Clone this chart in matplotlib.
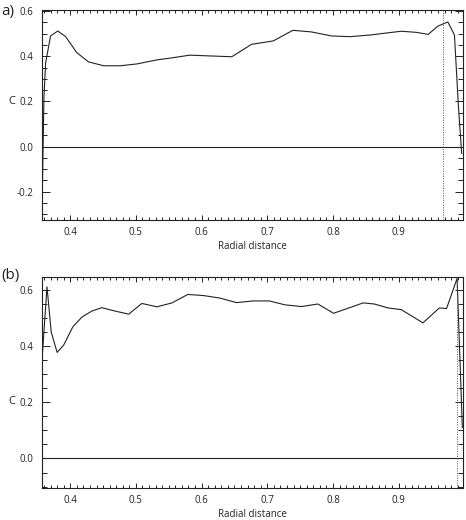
import matplotlib
matplotlib.use("Agg")
import matplotlib.pyplot as plt
from matplotlib.ticker import MultipleLocator, FormatStrFormatter

plt.rcParams['font.family'] = ['Open Sans', 'DejaVu Sans']

# Panel (a) data
xa = [0.357, 0.360, 0.3625, 0.370, 0.381, 0.393, 0.410, 0.428, 0.451, 0.476,
      0.501, 0.532, 0.557, 0.582, 0.618, 0.646, 0.676, 0.709, 0.739, 0.767,
      0.798, 0.826, 0.856, 0.881, 0.904, 0.927, 0.945, 0.960, 0.975, 0.985,
      0.991, 0.996]
ya = [-0.28, 0.22, 0.37, 0.49, 0.512, 0.487, 0.416, 0.375, 0.358, 0.358,
      0.366, 0.384, 0.394, 0.405, 0.401, 0.398, 0.453, 0.468, 0.515, 0.508,
      0.490, 0.487, 0.494, 0.503, 0.511, 0.506, 0.497, 0.534, 0.552, 0.494,
      0.18, -0.03]
vline_a = 0.968

# Panel (b) data
xb = [0.3575, 0.3646, 0.371, 0.380, 0.390, 0.404, 0.418, 0.433, 0.448, 0.468,
      0.489, 0.509, 0.532, 0.555, 0.579, 0.603, 0.628, 0.653, 0.679, 0.703,
      0.727, 0.752, 0.777, 0.801, 0.823, 0.846, 0.863, 0.884, 0.904, 0.937,
      0.962, 0.973, 0.989, 0.997]
yb = [0.366, 0.61, 0.45, 0.377, 0.403, 0.468, 0.503, 0.524, 0.536, 0.524,
      0.513, 0.551, 0.539, 0.553, 0.583, 0.579, 0.570, 0.554, 0.560, 0.560,
      0.546, 0.540, 0.549, 0.516, 0.534, 0.553, 0.549, 0.535, 0.529, 0.482,
      0.535, 0.533, 0.640, 0.11]
vline_b = 0.9896

xticks = [0.4, 0.5, 0.6, 0.7, 0.8, 0.9]

fig = plt.figure(figsize=(4.66, 5.2), dpi=100)
ax_a = fig.add_axes([42/466, 1-220/520, (463-42)/466, (220-10)/520])
ax_b = fig.add_axes([42/466, 1-488/520, (463-42)/466, (488-277)/520])

lc = '#222222'
for ax, x, y, vl, ylim, yt in [
        (ax_a, xa, ya, vline_a, (-0.325, 0.605), [-0.2, 0.0, 0.2, 0.4, 0.6]),
        (ax_b, xb, yb, vline_b, (-0.105, 0.645), [0.0, 0.2, 0.4, 0.6])]:
    ax.plot(x, y, color=lc, lw=0.8)
    ax.axhline(0, color=lc, lw=0.8)
    ax.axvline(vl, color='#555555', lw=0.7, ls=(0, (1, 1.5)))
    ax.set_xlim(0.357, 0.998)
    ax.set_ylim(*ylim)
    ax.set_xticks(xticks)
    ax.set_yticks(yt)
    ax.xaxis.set_minor_locator(MultipleLocator(0.01))
    ax.yaxis.set_minor_locator(MultipleLocator(0.05))
    ax.xaxis.set_major_formatter(FormatStrFormatter('%.1f'))
    ax.yaxis.set_major_formatter(FormatStrFormatter('%.1f'))
    ax.tick_params(axis='both', which='both', direction='in', top=True, right=True,
                   labelsize=7, colors=lc, width=0.7)
    ax.tick_params(axis='y', which='major', length=6, pad=6)
    ax.tick_params(axis='y', which='minor', length=3.5)
    ax.tick_params(axis='x', which='major', length=3.5, pad=5)
    ax.tick_params(axis='x', which='minor', length=2)
    for s in ax.spines.values():
        s.set_linewidth(0.8)
        s.set_color(lc)
    ax.set_xlabel('Radial distance', fontsize=7, labelpad=2, color=lc)

fig.text(12/466, 1-101/520, 'C', fontsize=8, ha='center', va='center', color=lc)
fig.text(12/466, 1-401/520, 'C', fontsize=8, ha='center', va='center', color=lc)
fig.text(1/466, 1-12/520, 'a)', fontsize=11, ha='left', va='center', color=lc)
fig.text(1/466, 1-276/520, '(b)', fontsize=11, ha='left', va='center', color=lc)

fig.savefig('out.png', dpi=100)
